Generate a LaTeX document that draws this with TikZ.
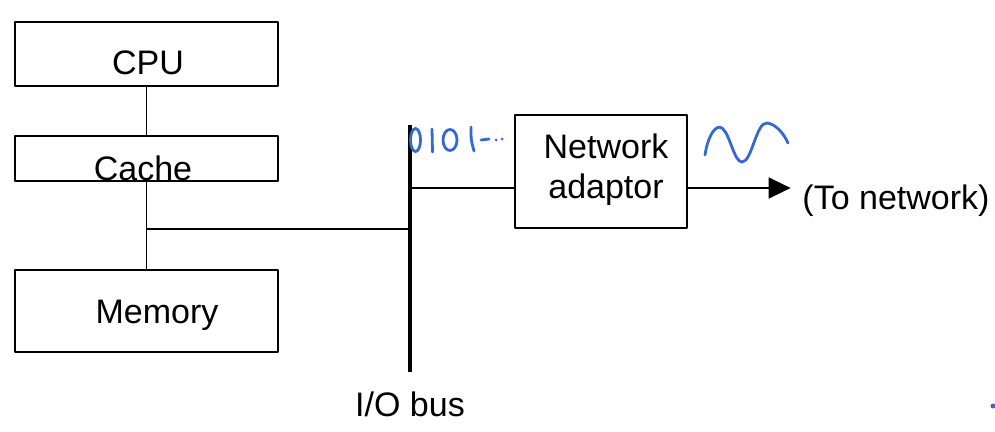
\documentclass[tikz,border=0pt]{standalone}
\usepackage{fontspec}
\setmainfont{Liberation Sans}
\usetikzlibrary{arrows.meta}
\definecolor{inkblue}{RGB}{52,104,214}
\tikzset{
	unitbox/.style={draw,line width=1.3pt,minimum width=263pt,inner sep=0pt},
	lbl/.style={font=\fontsize{34}{40}\selectfont,inner sep=0pt,align=center},
	wire/.style={line width=1.3pt},
	bus/.style={line width=4pt},
	ink/.style={inkblue,line width=2.8pt,line cap=round,line join=round}
}
\begin{document}
\begin{tikzpicture}[x=1pt,y=-1pt,line join=round]
	\useasboundingbox (0,0) rectangle (995,431);
	% boxes on the left
	\node[unitbox,minimum height=64pt] (cpu) at (146.5,54) {};
	\node[unitbox,minimum height=45pt] (cache) at (146.5,158.5) {};
	\node[unitbox,minimum height=82pt] (mem) at (146.5,311) {};
	\node[lbl] (cputxt) at (148,63) {CPU};
	\node[lbl] (cachetxt) at (143,168) {Cache};
	\node[lbl] (memtxt) at (157,315) {Memory};
	% network adaptor
	\node[draw,line width=1.3pt,minimum width=172pt,minimum height=113pt,inner sep=0pt] (nic) at (601,171.5) {};
	\node[lbl] (nictxt) at (606,170) {Network\\adaptor};
	% bus
	\path (410,125) coordinate (bustop) (410,372) coordinate (busbot)
	(147,229) coordinate (j);
	\draw[bus] (bustop) -- (busbot);
	\node[lbl,below=20pt] (buslbl) at (busbot) {I/O bus};
	% connectors
	\draw[wire] (cpu) -- (cache);
	\draw[wire] (cache) -- (mem);
	\draw[wire] (j) -- (j -| bustop);
	\draw[wire] ([yshift=-16.5pt]nic.west -| bustop) -- ([yshift=-16.5pt]nic.west);
	\draw[wire,-{Triangle[length=22pt,width=21pt]}] ([yshift=-16.5pt]nic.east) -- ++(103,0) coordinate (out);
	\node[lbl] (tonet) at (896,201) {(To network)};
	% handwritten bits
	\draw[ink] (415.5,140) ellipse (5 and 11.5);
	\draw[ink] (432,129) -- (432.5,152);
	\draw[ink] (450,140) ellipse (7 and 10.5);
	\draw[ink] (471,127) .. controls (471,140) .. (474,151);
	\draw[ink] (481,140) -- (489,139);
	\fill[inkblue] (496,140) circle (1.5) (502,139) circle (1.5);
	\draw[ink] (705,155) .. controls (708,135) and (716,124) .. (722,128)
	.. controls (730,134) and (734,162) .. (742,162)
	.. controls (752,162) and (756,122) .. (767,123)
	.. controls (776,124) and (784,134) .. (788,143);
	\fill[inkblue] (993,406) circle (2.5);
\end{tikzpicture}
\end{document}
